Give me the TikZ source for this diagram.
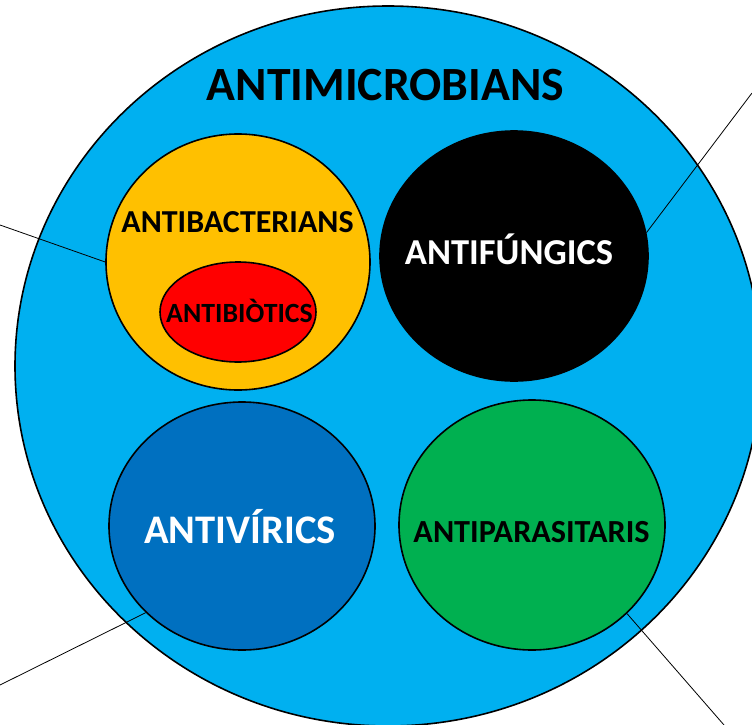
\documentclass[tikz,border=0pt]{standalone}
\usepackage{fontspec}
\setmainfont{Carlito}
\usetikzlibrary{shapes.geometric}
\definecolor{microblue}{HTML}{00B0F0}
\definecolor{bactyellow}{HTML}{FFC000}
\definecolor{viralblue}{HTML}{0070C0}
\definecolor{parasgreen}{HTML}{00B050}
\tikzset{
  blob/.style={ellipse, draw, line width=1.6pt, inner sep=0pt},
  tag/.style={font=\bfseries\fontsize{#1}{#1}\selectfont, inner sep=0pt, anchor=base},
  link/.style={line width=0.8pt}
}

\begin{document}
\begin{tikzpicture}[x=1pt, y=-1pt]
\useasboundingbox (0, 0) rectangle (752, 725);

\node (micro) [blob, fill=microblue, minimum width=746, minimum height=720] at (388, 366) {};

\node (bact) [blob, fill=bactyellow, minimum width=264, minimum height=256] at (238, 262) {};
\node (abio) [blob, fill=red, minimum width=156, minimum height=100] at (238, 312) {};
\node (fung) [blob, fill=black, minimum width=268, minimum height=250] at (514, 256) {};
\node (vir) [blob, fill=viralblue, minimum width=266, minimum height=248] at (242, 526) {};
\node (paras) [blob, fill=parasgreen, minimum width=266, minimum height=250] at (532, 525) {};

\node (tmicro) [tag=47.7] at (385.5, 100) {ANTIMICROBIANS};
\node (tbact) [tag=32] at (237.5, 232) {ANTIBACTERIANS};
\node (tabio) [tag=27.8] at (239.5, 322) {ANTIBIÒTICS};
\node (tfung) [tag=36.5, text=white] at (509, 264) {ANTIFÚNGICS};
\node (tvir) [tag=40.6, text=white] at (240, 543) {ANTIVÍRICS};
\node (tparas) [tag=32.2] at (531.5, 542) {ANTIPARASITARIS};

\coordinate (e1) at (0, 225);
\coordinate (e2) at (752, 93);
\coordinate (e3) at (0, 685);
\coordinate (e4) at (724, 725);

\draw [link] (bact.west) -- (e1);
\draw [link] (fung.10) -- (e2);
\draw [link] (vir.222) -- (e3);
\draw [link] (paras.317) -- (e4);
\end{tikzpicture}
\end{document}
